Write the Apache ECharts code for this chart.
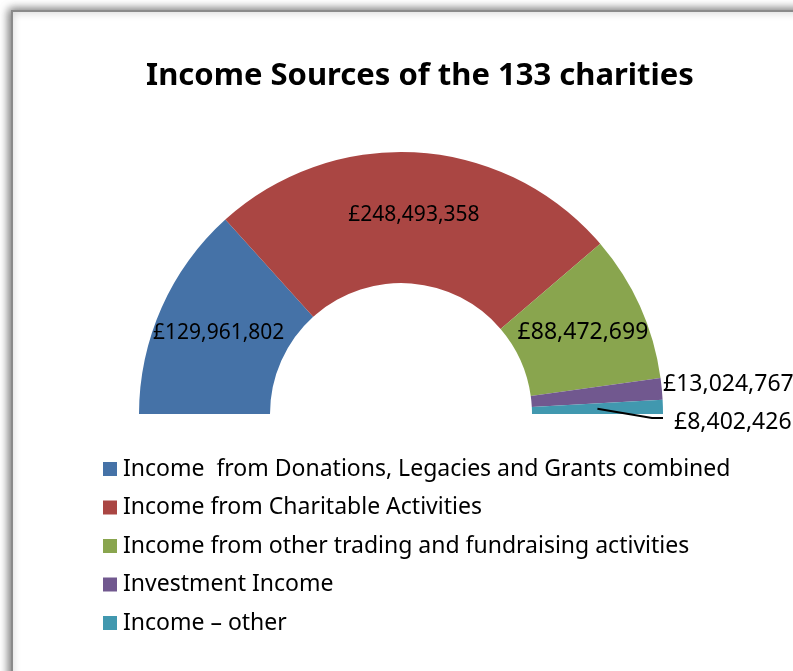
<!DOCTYPE html>
<html>
<head>
<meta charset="utf-8">
<script src="https://cdn.jsdelivr.net/npm/echarts@6/dist/echarts.min.js"></script>
<style>
  html, body { margin: 0; padding: 0; background: #ffffff; }
  #chart { width: 793px; height: 671px; }
</style>
</head>
<body>
<div id="chart"></div>
<script>
// Income categories and totals (GBP) for the 133 charities
const categories = [
  'Income  from Donations, Legacies and Grants combined',
  'Income from Charitable Activities',
  'Income from other trading and fundraising activities',
  'Investment Income',
  'Income \u2013 other'
];
const values = [129961802, 248493358, 88472699, 13024767, 8402426];
const colors = ['#4572A7', '#AA4643', '#89A54E', '#71588F', '#4198AF'];

const FONT = '"Noto Sans", "Open Sans", sans-serif';
const CX = 401, CY = 414, R_OUT = 262, R_IN = 131;

function money(v) {
  return '\u00A3' + v.toLocaleString('en-GB');
}

const chart = echarts.init(document.getElementById('chart'), null, { renderer: 'canvas' });

// Shared ring geometry for the coloured ring and the label layer above it
const ring = {
  type: 'pie',
  center: [CX, CY],
  radius: [R_IN, R_OUT],
  startAngle: 180,
  endAngle: 0,
  clockwise: true,
  avoidLabelOverlap: false,
  silent: true
};

// Bottom layer: the coloured half-ring, no labels
const sliceData = categories.map((name, i) => ({
  name: name, value: values[i], itemStyle: { color: colors[i] }
}));

// Top layer: transparent copy of the ring carrying the value labels,
// so the leader line of the smallest slice is drawn over the ring
const labelData = categories.map((name, i) => {
  const item = { name: name, value: values[i], itemStyle: { color: 'rgba(0,0,0,0)' } };
  if (i >= 2) {
    item.label = { fontSize: 23 };
  }
  if (i >= 3) {
    item.label.position = 'outside';
    item.labelLine = { show: i === 4, lineStyle: { color: '#000', width: 2 } };
  }
  return item;
});

chart.setOption({
  animation: false,
  backgroundColor: '#ffffff',
  graphic: [{
    type: 'rect',
    z: -10,
    shape: { x: 12, y: 11, width: 900, height: 720 },
    style: {
      fill: '#ffffff',
      stroke: '#8a8a8a',
      lineWidth: 2,
      shadowBlur: 9,
      shadowOffsetX: -2,
      shadowOffsetY: -1,
      shadowColor: 'rgba(0,0,0,0.55)'
    }
  }],
  title: {
    text: 'Income Sources of the 133 charities',
    left: 415,
    textAlign: 'center',
    top: 56,
    textStyle: { fontFamily: FONT, fontWeight: 'bold', fontSize: 31, color: '#000' }
  },
  legend: {
    orient: 'vertical',
    left: 103,
    top: 457,
    padding: 0,
    itemWidth: 14,
    itemHeight: 14,
    itemGap: 14.5,
    icon: 'rect',
    data: categories,
    textStyle: { fontFamily: FONT, fontSize: 23, lineHeight: 24, color: '#000', padding: [0, 0, 0, 1] }
  },
  series: [
    Object.assign({}, ring, {
      z: 2,
      label: { show: false },
      labelLine: { show: false },
      data: sliceData
    }),
    Object.assign({}, ring, {
      z: 3,
      label: {
        show: true,
        position: 'inside',
        formatter: p => money(p.value),
        fontFamily: FONT,
        fontSize: 21,
        color: '#000'
      },
      labelLayout: function (params) {
        if (params.dataIndex === 3) {
          return { x: CX + R_OUT, y: CY - 30, align: 'left', verticalAlign: 'middle' };
        }
        if (params.dataIndex === 4) {
          const mid = (R_IN + R_OUT) / 2;
          const a = 1.55 * Math.PI / 180;
          const sx = CX + mid * Math.cos(a), sy = CY - mid * Math.sin(a);
          return {
            x: CX + R_OUT + 11, y: CY + 8, align: 'left', verticalAlign: 'middle',
            labelLinePoints: [[sx, sy], [CX + R_OUT - 11, CY + 4], [CX + R_OUT, CY + 4]]
          };
        }
        return {};
      },
      data: labelData
    })
  ]
});
</script>
</body>
</html>
